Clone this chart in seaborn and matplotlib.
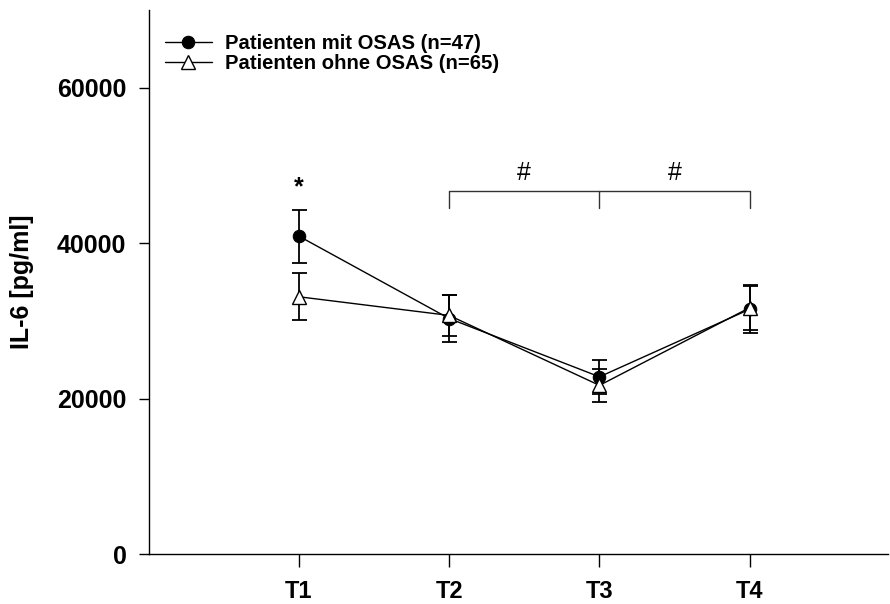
import matplotlib
matplotlib.use("Agg")
import matplotlib.pyplot as plt
import numpy as np
import pandas as pd
import seaborn as sns

sns.set_style("ticks")
plt.rcParams['font.family'] = ['Liberation Sans', 'DejaVu Sans']
plt.rcParams['text.color'] = 'black'
plt.rcParams['axes.labelcolor'] = 'black'
plt.rcParams['xtick.color'] = 'black'
plt.rcParams['ytick.color'] = 'black'

times = ["T1", "T2", "T3", "T4"]
positions = [1, 2, 3, 4]

mit_label = "Patienten mit OSAS (n=47)"
mit_mean = [40900, 30300, 22800, 31500]
mit_err = [3400, 3000, 2150, 3000]

ohne_label = "Patienten ohne OSAS (n=65)"
ohne_mean = [33100, 30700, 21700, 31700]
ohne_err = [3000, 2600, 2150, 2900]

df = pd.DataFrame({
    "pos": positions * 2,
    "il6": mit_mean + ohne_mean,
    "group": [mit_label] * 4 + [ohne_label] * 4,
})

fig = plt.figure(figsize=(8.9, 6.04), dpi=100)
ax = fig.add_axes([148.6 / 890, 50 / 604, 739.4 / 890, 544 / 604])

# error bars under the markers
ax.errorbar(positions, mit_mean, yerr=mit_err, fmt="none", ecolor="black",
            elinewidth=1.3, capsize=5.4, capthick=1.3, zorder=2)
ax.errorbar(positions, ohne_mean, yerr=ohne_err, fmt="none", ecolor="black",
            elinewidth=1.3, capsize=5.4, capthick=1.3, zorder=2)

sns.lineplot(data=df[df.group == mit_label], x="pos", y="il6", ax=ax,
             color="black", linewidth=1.0, marker="o", markersize=9,
             markerfacecolor="black", markeredgecolor="black",
             label=mit_label, zorder=3)
sns.lineplot(data=df[df.group == ohne_label], x="pos", y="il6", ax=ax,
             color="black", linewidth=1.0, marker="^", markersize=9.5,
             markerfacecolor="white", markeredgecolor="black",
             markeredgewidth=1.0, label=ohne_label, zorder=4)

ax.set_xlim(0, 4.92)
ax.set_ylim(0, 70000)
ax.set_xticks(positions)
ax.set_xticklabels(times)
ax.set_yticks([0, 20000, 40000, 60000])
ax.set_yticklabels(["0", "20000", "40000", "60000"])
ax.set_xlabel("")
ax.set_ylabel("IL-6 [pg/ml]", fontsize=18, fontweight="bold")
ax.yaxis.set_label_coords((34 - 148.6) / 739.4, 0.5)

for lab in ax.get_yticklabels():
    lab.set_fontweight("bold")
    lab.set_fontsize(18)
for lab in ax.get_xticklabels():
    lab.set_fontweight("bold")
    lab.set_fontsize(17)
ax.tick_params(axis="y", length=7, width=1, pad=9, color="black", labelcolor="black")
ax.tick_params(axis="x", length=9, width=1, pad=10, color="black", labelcolor="black")

sns.despine(ax=ax)
for sp in ["left", "bottom"]:
    ax.spines[sp].set_color("black")
    ax.spines[sp].set_linewidth(1.0)

# significance marks
ax.text(1, 46300, "*", ha="center", va="baseline", fontsize=18, fontweight="bold")
ax.plot([2, 2, 4, 4], [44470, 46700, 46700, 44470], color="#333333", lw=1.0)
ax.plot([3, 3], [46700, 44470], color="#333333", lw=1.0)
ax.text(2.5, 48100, "#", ha="center", va="baseline", fontsize=18)
ax.text(3.5, 48100, "#", ha="center", va="baseline", fontsize=18)

ax.legend(loc="upper left", bbox_to_anchor=(0.022, 0.955), frameon=False,
          prop={"weight": "bold", "size": 14.6}, handlelength=2.3,
          handletextpad=0.69, labelspacing=0.03, borderpad=0, borderaxespad=0)

fig.savefig("out.png", dpi=100)
